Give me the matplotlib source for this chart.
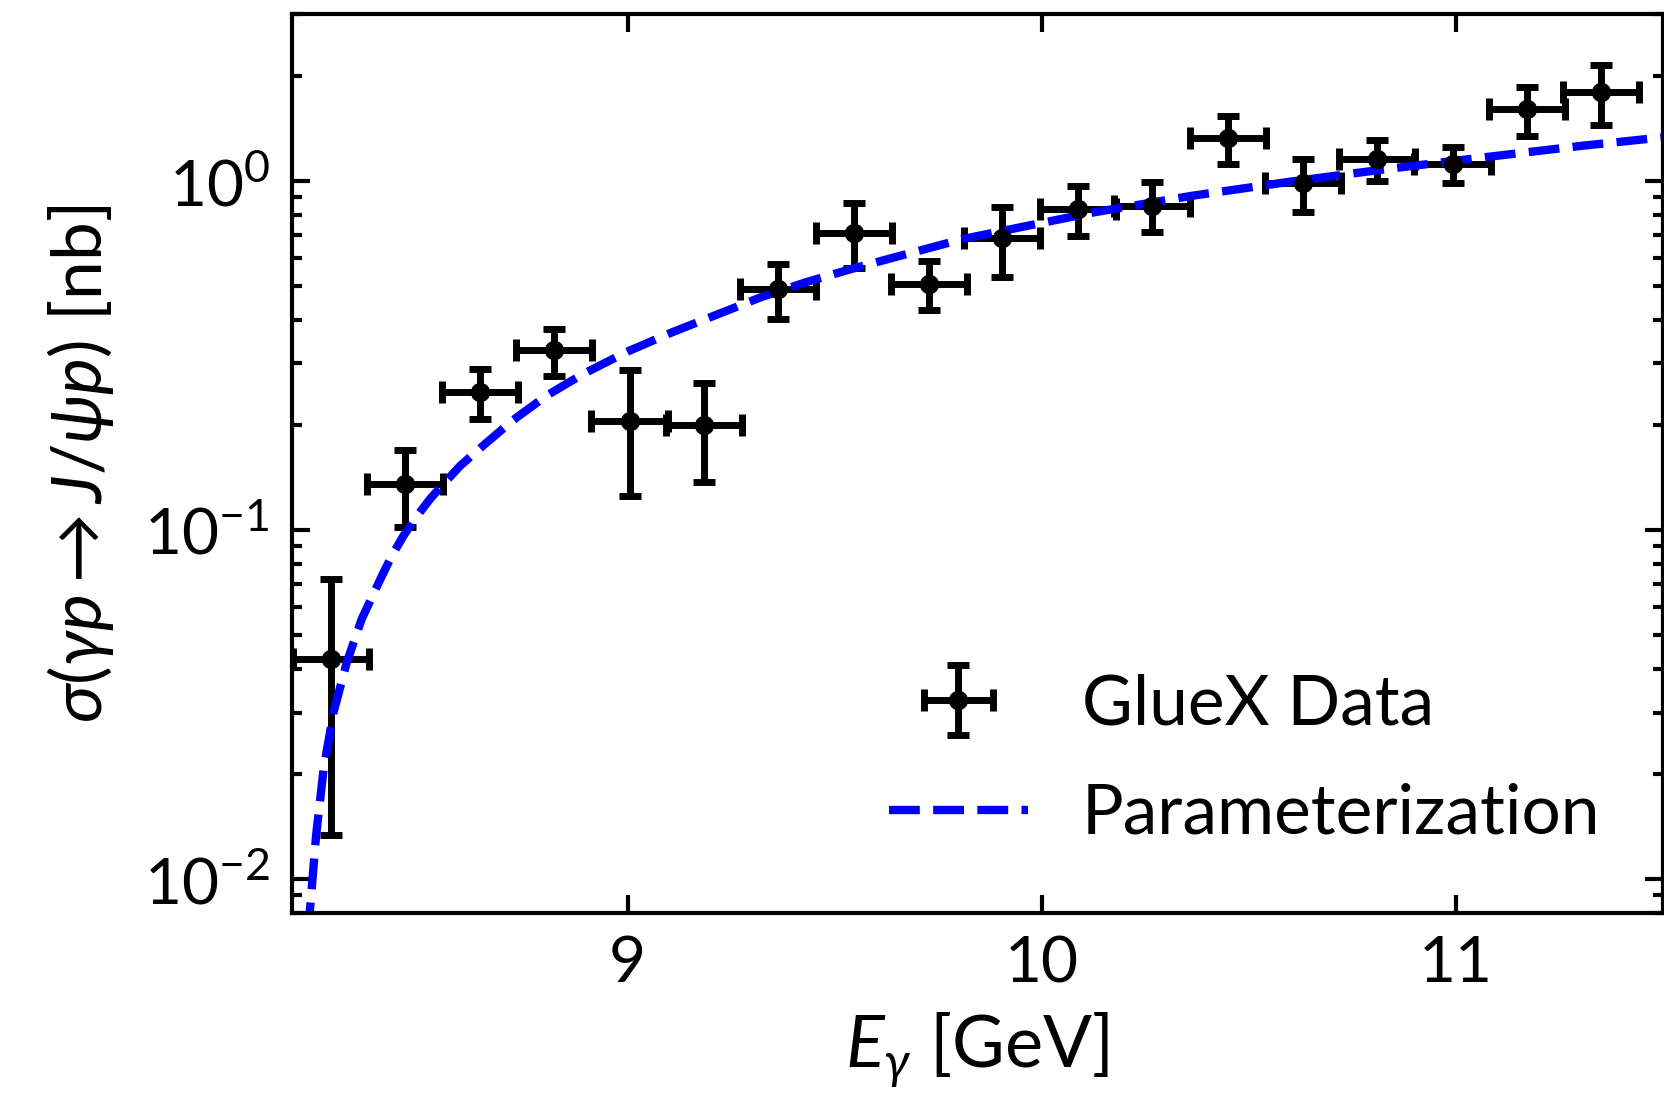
import matplotlib
matplotlib.use("Agg")
import matplotlib.pyplot as plt

plt.rcParams['font.family'] = ['Lato', 'DejaVu Sans']
plt.rcParams['mathtext.fontset'] = 'custom'
plt.rcParams['mathtext.rm'] = 'Lato'
plt.rcParams['mathtext.it'] = 'Lato:italic'
plt.rcParams['mathtext.bf'] = 'Lato:bold'

# GlueX data points
e_gamma = [8.285, 8.462, 8.644, 8.823, 9.005, 9.185, 9.364, 9.546, 9.728,
           9.905, 10.087, 10.267, 10.449, 10.631, 10.810, 10.992, 11.172, 11.351]
sigma = [0.0428, 0.135, 0.248, 0.327, 0.205, 0.1995, 0.489, 0.709, 0.507,
         0.687, 0.830, 0.849, 1.326, 0.984, 1.155, 1.117, 1.606, 1.80]
sigma_hi = [0.0724, 0.170, 0.290, 0.377, 0.288, 0.263, 0.578, 0.863, 0.588,
            0.840, 0.968, 0.990, 1.537, 1.155, 1.312, 1.252, 1.861, 2.151]
sigma_lo = [0.0134, 0.102, 0.208, 0.276, 0.125, 0.137, 0.402, 0.562, 0.426,
            0.531, 0.693, 0.712, 1.117, 0.812, 1.000, 0.984, 1.347, 1.448]
e_halfwidth = 0.092

# parameterization curve
curve_e = [8.228, 8.234, 8.248, 8.266, 8.290, 8.322, 8.358, 8.403, 8.430,
           8.459, 8.490, 8.523, 8.557, 8.596, 8.654, 8.724, 8.805, 8.891,
           8.999, 9.107, 9.214, 9.322, 9.430, 9.538, 9.645, 9.807, 9.893,
           10.128, 10.363, 10.599, 10.834, 11.069, 11.305, 11.50]
curve_sigma = [0.0070, 0.00838, 0.0133, 0.0206, 0.030, 0.0417, 0.0555, 0.0722,
               0.0840, 0.0962, 0.109, 0.1226, 0.136, 0.1527, 0.1755, 0.2065,
               0.2427, 0.279, 0.324, 0.368, 0.413, 0.464, 0.512, 0.558, 0.604,
               0.680, 0.714, 0.813, 0.906, 0.994, 1.081, 1.168, 1.26, 1.332]

yerr = [[s - lo for s, lo in zip(sigma, sigma_lo)],
        [hi - s for s, hi in zip(sigma, sigma_hi)]]

fig = plt.figure(figsize=(8.325, 5.465), dpi=200)
ax = fig.add_axes([0.1754, 0.1647, 0.8234, 0.8223])

data = ax.errorbar(e_gamma, sigma, xerr=e_halfwidth, yerr=yerr, fmt='o',
                   color='black', markersize=6, elinewidth=2.5, capsize=4,
                   capthick=2.5, label='GlueX Data')
fit, = ax.plot(curve_e, curve_sigma, color='blue', linestyle='--',
               linewidth=3, label='Parameterization')

ax.set_yscale('log')
ax.set_xlim(8.19, 11.5)
ax.set_ylim(0.008, 3.0)
ax.set_xticks([9, 10, 11])

ax.tick_params(which='both', direction='in', top=True, right=True, width=1.5,
               labelsize=23)
ax.tick_params(which='major', length=6.5, pad=8)
ax.tick_params(which='minor', length=3.6)
ax.tick_params(axis='x', which='minor', bottom=False, top=False)
for sp in ax.spines.values():
    sp.set_linewidth(1.5)

ax.set_xlabel(r'$E_\gamma$ [GeV]', fontsize=26, labelpad=6)
ax.set_ylabel(r'$\sigma(\gamma p \rightarrow J/\psi p)$ [nb]', fontsize=25,
              labelpad=10)

ax.legend([data, fit], ['GlueX Data', 'Parameterization'], loc='lower right',
          frameon=False, fontsize=25, handlelength=2.0, handletextpad=0.78,
          labelspacing=0.67, bbox_to_anchor=(1.0, 0.005))

fig.savefig('out.png', dpi=200)
